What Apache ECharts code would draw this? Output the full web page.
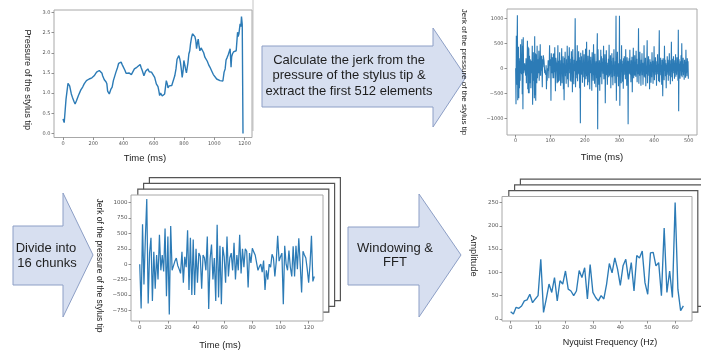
<!DOCTYPE html>
<html>
<head>
<meta charset="utf-8">
<script src="https://cdn.jsdelivr.net/npm/echarts@6/dist/echarts.min.js"></script>
<style>
html,body{margin:0;padding:0;background:#fff;}
#c{width:701px;height:354px;}
</style>
</head>
<body>
<div id="c"></div>
<script>
// Pressure of the stylus tip over the whole stroke
const pressureTime = [
  0, 8, 20, 33, 44, 55, 62, 72, 80, 89,
  102, 118, 130, 140, 155, 165, 173, 182, 191, 200,
  206, 215, 222, 232, 240, 251, 258, 262, 273, 284,
  290, 295, 306, 317, 325, 333, 350, 360, 368, 376,
  384, 392, 399, 410, 417, 428, 436, 444, 452, 461,
  472, 480, 488, 501, 510, 517, 524, 535, 546, 555,
  561, 570, 577, 585, 594, 606, 617, 628, 634, 639,
  645, 650, 656, 661, 667, 672, 683, 690, 694, 702,
  710, 719, 728, 739, 747, 754, 760, 766, 772, 776,
  782, 788, 794, 799, 805, 810, 816, 821, 826, 832,
  838, 843, 850, 856, 864, 872, 878, 883, 889, 894,
  900, 905, 913, 921, 930, 938, 946, 954, 963, 972,
  983, 994, 1005, 1016, 1027, 1038, 1044, 1049, 1057, 1065,
  1072, 1078, 1085, 1093, 1099, 1105, 1111, 1115, 1120, 1127,
  1133, 1140, 1145, 1150, 1154, 1158, 1163, 1167, 1171, 1176,
  1180, 1185, 1190
];
const pressure = [
  0.36, 0.27, 0.85, 1.24, 1.18, 0.98, 0.90, 0.80, 0.73, 0.81,
  0.94, 1.08, 1.15, 1.23, 1.31, 1.34, 1.35, 1.32, 1.38, 1.36,
  1.43, 1.47, 1.52, 1.50, 1.56, 1.54, 1.49, 1.43, 1.33, 1.28,
  1.23, 1.05, 0.98, 1.10, 1.15, 1.31, 1.52, 1.63, 1.74, 1.72,
  1.77, 1.70, 1.72, 1.56, 1.49, 1.46, 1.50, 1.52, 1.46, 1.43,
  1.60, 1.58, 1.64, 1.62, 1.71, 1.63, 1.56, 1.43, 1.54, 1.57,
  1.60, 1.53, 1.56, 1.52, 1.54, 1.39, 1.23, 1.16, 1.05, 0.94,
  1.00, 1.04, 0.93, 0.90, 0.97, 0.98, 1.31, 1.22, 1.13, 1.18,
  1.20, 1.19, 1.23, 1.43, 1.60, 1.84, 1.80, 1.93, 1.85, 1.77,
  1.60, 1.39, 1.55, 1.81, 1.70, 1.60, 1.50, 1.52, 1.75, 1.97,
  2.05, 2.22, 2.38, 2.47, 2.48, 2.40, 2.30, 2.10, 2.25, 2.34,
  2.15, 2.05, 2.12, 2.10, 2.00, 1.89, 1.85, 1.79, 1.70, 1.64,
  1.55, 1.46, 1.43, 1.35, 1.38, 1.31, 1.28, 1.35, 1.30, 1.52,
  1.60, 1.82, 1.88, 1.96, 2.00, 2.10, 1.64, 1.90, 1.97, 2.02,
  2.05, 2.00, 2.05, 2.30, 2.51, 2.40, 2.47, 2.60, 2.72, 2.65,
  2.90, 2.70, 0.0
];

// Jerk of the pressure, one value per millisecond (the first 125 form the first chunk)
const jerk = [
  0, -720, 650, -330, 420, 1060, -640, 180, 430, -600,
  200, -400, 150, -250, 480, -100, 150, -120, 580, -520,
  450, -820, 620, -100, -80, 50, 100, -20, -80, -150,
  200, -300, 120, -50, 550, -420, 430, -500, 400, -500,
  250, -300, 180, 130, -400, 150, 100, -100, 450, -730,
  90, 320, -250, 100, -600, 640, -540, 300, -650, 280,
  120, -300, 450, -200, 100, 180, -100, 350, -250, 150,
  -100, 480, -150, 250, -50, 250, 210, -380, 180, 20,
  260, 200, 150, 180, -100, -40, 0, -130, 60, -420,
  -100, -250, 0, -50, 160, 100, -200, 50, 460, 50,
  120, 180, -650, 300, 0, -100, 220, -50, -200, 290,
  -200, 300, -80, 420, 0, -460, 210, 150, 100, -80,
  -300, 0, 460, -280, -200,
  150, -250, 320, -80, 90, -350, 160, -20, 400, -300, 80, -160, 240, -420, 100, -640, 210, -50, 330, -160,
  20, -310, 180, -90, 450, -220, 60, -380, 250, 40, 420, -100, 190, -250, 110, -270, 340, -50, 230, -480,
  380, -140, 10, -320, 170, -60, 200, 1000, -380, 90, -200, 150, -130, 460, -260, 80, -120, 340, -90, 220,
  -400, 160, -1100, 310, -50, 240, -130, 80, -290, 360, -40, 130, -180, 280, -370, 110, -100, 390, -220, 50,
  530, -160, 90, -340, 250, -10, 110, -280, 370, -420, 160, -90, 230, -100, 40, -450, 320, -60, 170, -250,
  480, -130, 60, -310, 290, -40, 110, -380, 140, -200, 250, 700, -1220, 380, -60, 90, -330, 160, -450, 100,
  -180, 370, -60, 240, -320, 130, -50, 200, -110, 450, -220, 160, -70, 280, -700, 120, -90, 360, -140, 50,
  -330, 110, -60, 190, -180, 470, -150, 30, -120, 260, -400, 140, -80, 300, -180, 50, -340, 210, -20, 380,
  -160, 70, -300, 140, -50, 1050, -650, 180, -20, 330, -170, 100, -360, 60, -140, 1050, -750, 110, -30, 180,
  -300, 460, -60, 150, -270, 90, -410, 200, -40, 240, -130, 70, -220, 380, -90, 110, -350, 220, -60, 150,
  -1120, 140, -40, 200, -110, 370, -130, 80, -280, 160, -50, 230, -480, 100, -40, 410, -200, 80, -150, 260,
  -130, 20, -170, 350, -60, 190, -280, 80, -120, 40, 800, -310, 70, -150, 330, -100, 50, -350, 170, -60,
  300, -140, 110, -330, 80, -40, 460, -170, 30, -190, 210, -360, 50, -120, 160, 560, -300, 100, -50, 240,
  -150, 70, -420, 180, -30, 130, -290, 90, -180, 320, -60, 150, -310, 60, -80, 440, -240, 100, -70, 220,
  -130, 60, -350, 140, -70, 280, -120, 90, -260, 130, 760, -280, 100, -70, 210, -140, 60, -330, 170, -90,
  -560, 200, -110, 80, -240, 450, -50, 170, -160, 100, -400, 60, -130, 240, -80, 170, -250, 110, -40, 300,
  -150, 90, -320, 160, -70, 530, -180, 50, -260, 190, -100, 240, -50, 110, -210, 160, -90, 280, -170, 70,
  -130, 220, -60, 150, -250, 770, -860, 180, -100, 90, -210, 140, -50, 260, -150, 500, -180, 100, -70, 210,
  -140, 80, -230, 170, -40, 120, -190, 370, -100, 60, -160, 200, -80, 140, -210
];
const chunkLength = 125;

// Windowed FFT amplitude of one chunk
const amplitude = [
  15.6, 10.6, 25, 23, 28, 39, 41, 53, 35, 43,
  50, 128, 14, 43, 75, 57, 89, 39, 82, 75,
  103, 64, 60, 50, 60, 104, 89, 110, 43, 117,
  57, 46, 39, 50, 43, 75, 119, 99, 131, 107,
  72, 114, 128, 85, 121, 60, 136, 131, 146, 78,
  53, 142, 143, 114, 121, 50, 195, 57, 103, 46,
  250, 64, 18, 28
];

// Tick values and their printed labels
const pressureXTicks = [0, 200, 400, 600, 800, 1000, 1200];
const pressureXLabels = ['0', '200', '400', '600', '800', '1000', '1200'];
const pressureYTicks = [0, 0.5, 1, 1.5, 2, 2.5, 3];
const pressureYLabels = ['0.0', '0.5', '1.0', '1.5', '2.0', '2.5', '3.0'];
const jerkXTicks = [0, 100, 200, 300, 400, 500];
const jerkXLabels = ['0', '100', '200', '300', '400', '500'];
const jerkYTicks = [-1000, -500, 0, 500, 1000];
const jerkYLabels = ['\u22121000', '\u2212500', '0', '500', '1000'];
const chunkXTicks = [0, 20, 40, 60, 80, 100, 120];
const chunkXLabels = ['0', '20', '40', '60', '80', '100', '120'];
const chunkYTicks = [-750, -500, -250, 0, 250, 500, 750, 1000];
const chunkYLabels = ['\u2212750', '\u2212500', '\u2212250', '0', '250', '500', '750', '1000'];
const freqXTicks = [0, 10, 20, 30, 40, 50, 60];
const freqXLabels = ['0', '10', '20', '30', '40', '50', '60'];
const ampYTicks = [0, 50, 100, 150, 200, 250];
const ampYLabels = ['0', '50', '100', '150', '200', '250'];

const LINE = '#2c7bb6';
const NAME_FONT = '"Liberation Sans", Arial, sans-serif';
const TICK_FONT = '"DejaVu Sans", sans-serif';

function pick(ticks, labels, v) {
  for (let i = 0; i < ticks.length; i++) {
    if (Math.abs(ticks[i] - v) < 1e-9) return labels[i];
  }
  return '';
}

// shift moves the axis name along its axis (pixels)
function axis(gi, min, max, ticks, labels, opts) {
  const s = opts.shift || 0;
  const pad = s >= 0 ? [0, 0, 0, 2 * s] : [0, -2 * s, 0, 0];
  return {
    type: 'value', gridIndex: gi, min: min, max: max,
    name: opts.name, nameLocation: 'middle', nameGap: opts.gap,
    nameRotate: opts.rotate,
    nameTextStyle: { fontSize: opts.nameSize, color: '#222', fontFamily: NAME_FONT, padding: pad },
    axisLine: { show: false, onZero: false },
    splitLine: { show: false },
    axisTick: { show: true, length: 2.5, lineStyle: { color: '#777', width: 0.8 }, customValues: ticks },
    axisLabel: {
      fontSize: opts.tickSize, color: '#555', margin: 3.5, fontFamily: TICK_FONT,
      customValues: ticks, formatter: v => pick(ticks, labels, v)
    }
  };
}

function gridBox(l, t, w, h) {
  return { left: l, top: t, width: w, height: h, show: true, backgroundColor: '#fff',
           borderColor: '#a8a8a8', borderWidth: 1, containLabel: false };
}

// stacked cards behind a chunk chart
function cards(l, t, w, h) {
  const out = [];
  for (let k = 3; k >= 1; k--) {
    out.push({
      type: 'rect', z: -10 + (3 - k),
      shape: { x: l + 5.8 * k + 1, y: t - 5.8 * k, width: w - 1, height: h - 3 },
      style: { fill: '#fff', stroke: '#555', lineWidth: 1.2 }
    });
  }
  return out;
}

function arrow(points) {
  return { type: 'polygon', z: -20, shape: { points: points },
           style: { fill: '#d7dff0', stroke: '#8d9fc6', lineWidth: 1 } };
}

function label(text, x, y) {
  return { type: 'text', z: 5, style: { text: text, x: x, y: y, fill: '#1e1e1e',
           font: '13px ' + NAME_FONT, textAlign: 'center', textVerticalAlign: 'middle' } };
}

const G1 = [54, 10, 198, 127.5];
const G2 = [507, 9, 190, 126];
const G3 = [131, 195, 192, 126];
const G4 = [502, 196.5, 190, 124.5];

const chart = echarts.init(document.getElementById('c'), null, { renderer: 'canvas' });

chart.setOption({
  animation: false,
  backgroundColor: '#fff',
  grid: [gridBox(...G1), gridBox(...G2), gridBox(...G3), gridBox(...G4)],
  xAxis: [
    axis(0, -59.5, 1249.5, pressureXTicks, pressureXLabels, { name: 'Time (ms)', gap: 16, nameSize: 9.5, tickSize: 5, shift: -8 }),
    axis(1, -25, 524, jerkXTicks, jerkXLabels, { name: 'Time (ms)', gap: 17.5, nameSize: 9.5, tickSize: 5 }),
    axis(2, -6.2, 130.2, chunkXTicks, chunkXLabels, { name: 'Time (ms)', gap: 19.5, nameSize: 9.3, tickSize: 5.5, shift: -7 }),
    axis(3, -3.15, 66.15, freqXTicks, freqXLabels, { name: 'Nyquist Frequency (Hz)', gap: 17.5, nameSize: 9, tickSize: 5.5, shift: 13 })
  ],
  yAxis: [
    axis(0, -0.1, 3.06, pressureYTicks, pressureYLabels, { name: 'Pressure of the stylus tip', gap: 21.5, rotate: -90, nameSize: 9.2, tickSize: 5, shift: 6 }),
    axis(1, -1334, 1186, jerkYTicks, jerkYLabels, { name: 'Jerk of the pressure of the stylus tip', gap: 39, rotate: -90, nameSize: 8, tickSize: 5 }),
    axis(2, -924, 1125, chunkYTicks, chunkYLabels, { name: 'Jerk of the pressure of the stylus tip', gap: 27.5, rotate: -90, nameSize: 8.5, tickSize: 5.5, shift: 7.5 }),
    axis(3, -4.3, 262.8, ampYTicks, ampYLabels, { name: 'Amplitude', gap: 24, rotate: -90, nameSize: 9.4, tickSize: 5.5, shift: -3 })
  ],
  series: [
    { type: 'line', xAxisIndex: 0, yAxisIndex: 0, showSymbol: false, symbol: 'none',
      lineStyle: { color: LINE, width: 1.4 },
      data: pressureTime.map((t, i) => [t, pressure[i]]) },
    { type: 'line', xAxisIndex: 1, yAxisIndex: 1, showSymbol: false, symbol: 'none',
      lineStyle: { color: LINE, width: 1.1 },
      data: jerk.map((v, i) => [i, v]) },
    { type: 'line', xAxisIndex: 2, yAxisIndex: 2, showSymbol: false, symbol: 'none',
      lineStyle: { color: LINE, width: 1.25 },
      data: jerk.slice(0, chunkLength).map((v, i) => [i, v]) },
    { type: 'line', xAxisIndex: 3, yAxisIndex: 3, showSymbol: false, symbol: 'none',
      lineStyle: { color: LINE, width: 1.35 },
      data: amplitude.map((v, i) => [i, v]) }
  ],
  graphic: [
    { type: 'line', z: -20, shape: { x1: 253, y1: 0, x2: 253, y2: 131 }, style: { stroke: '#c4c4c4', lineWidth: 1 } },
    ...cards(...G3),
    ...cards(...G4),
    arrow([[262, 46], [433, 46], [433, 28], [466, 77], [433, 127], [433, 107], [262, 107]]),
    arrow([[13, 226], [63, 226], [63, 193], [93, 255], [63, 317], [63, 285], [13, 285]]),
    arrow([[348, 227], [419, 227], [419, 194], [461, 255], [419, 317], [419, 285], [348, 285]]),
    label('Calculate the jerk from the', 349, 60),
    label('pressure of the stylus tip &', 349, 75.5),
    label('extract the first 512 elements', 349, 91),
    label('Divide into', 46, 248),
    label('16 chunks', 47, 263),
    label('Windowing &', 395, 248),
    label('FFT', 395, 262)
  ]
});
</script>
</body>
</html>
